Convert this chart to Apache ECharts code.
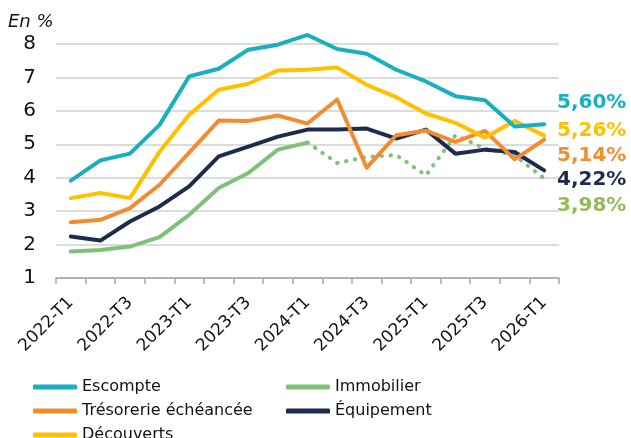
<!DOCTYPE html>
<html>
<head>
<meta charset="utf-8">
<script src="https://cdn.jsdelivr.net/npm/echarts@6/dist/echarts.min.js"></script>
<style>
html,body{margin:0;padding:0;background:#fff;}
#chart{width:631px;height:438px;}
</style>
</head>
<body>
<div id="chart"></div>
<script>
let quarters = ['2022-T1','2022-T2','2022-T3','2022-T4','2023-T1','2023-T2','2023-T3','2023-T4',
    '2024-T1','2024-T2','2024-T3','2024-T4','2025-T1','2025-T2','2025-T3','2025-T4','2026-T1'];
let escompte   = [3.91,4.52,4.72,5.58,7.03,7.26,7.83,7.98,8.27,7.85,7.71,7.23,6.88,6.44,6.32,5.53,5.60];
let tresorerie = [2.67,2.74,3.09,3.79,4.75,5.71,5.70,5.86,5.62,6.34,4.30,5.27,5.41,5.07,5.40,4.55,5.14];
let decouverts = [3.39,3.54,3.39,4.78,5.88,6.63,6.81,7.21,7.23,7.30,6.78,6.41,5.92,5.64,5.20,5.70,5.26];
let equipement = [2.24,2.12,2.69,3.14,3.74,4.64,4.93,5.23,5.44,5.44,5.47,5.17,5.44,4.72,4.84,4.77,4.22];
// immobilier : trait plein jusqu'en 2024-T1, pointillé ensuite
let immobilier = [1.79,1.84,1.94,2.22,2.89,3.69,4.14,4.84,5.05,null,null,null,null,null,null,null,null];
let immobilierPrev = [null,null,null,null,null,null,null,null,5.05,4.44,4.62,4.68,4.07,5.27,4.87,4.67,3.98];
let endLabels = ['5,60%','5,26%','5,14%','4,22%','3,98%'];

let colors = {
    escompte:'#17B0C1', tresorerie:'#F28C2E', decouverts:'#FFC000',
    equipement:'#1E2A4E', immobilier:'#7FC17B', immoLabel:'#92BB55'
};
let font = "'DejaVu Sans',sans-serif";

let myChart = echarts.init(document.getElementById('chart'));

let mkLine = function(name, data, color, dotted){
    return {
        name:name,
        type:'line',
        data:data,
        symbol:'none',
        clip:false,
        connectNulls:false,
        animation:false,
        lineStyle:{
            color:color,
            width:4,
            cap:'round',
            join:'round',
            type: dotted ? [0.5, 8.5] : 'solid'
        },
        itemStyle:{color:color}
    };
};

let labelColors = [colors.escompte, colors.decouverts, colors.tresorerie, colors.equipement, colors.immoLabel];
let labelY = [104, 132, 157, 181, 207];
let graphics = [{
    type:'text', left:8, top:13,
    style:{text:'En %', font:'italic 18px ' + font, fill:'#111'}
}];
endLabels.forEach(function(t, i){
    graphics.push({
        type:'text', left:557, top:labelY[i] - 11,
        style:{text:t, font:'bold 20px ' + font, fill:labelColors[i]}
    });
});

let legendBase = {
    orient:'vertical',
    top:379,
    height:150,
    padding:0,
    itemWidth:44,
    itemHeight:5,
    itemGap:8,
    icon:'roundRect',
    textStyle:{fontFamily:font, fontSize:16, color:'#111'}
};

let option = {
    animation:false,
    textStyle:{fontFamily:font},
    grid:{left:56, right:72, top:44, bottom:160},
    legend:[
        Object.assign({left:33, data:['Escompte','Trésorerie échéancée','Découverts']}, legendBase),
        Object.assign({left:286, data:['Immobilier','Équipement']}, legendBase)
    ],
    xAxis:{
        type:'category',
        data:quarters,
        boundaryGap:true,
        axisLine:{lineStyle:{color:'#a6a6a6', width:1.5}},
        axisTick:{show:true, interval:0, length:6, lineStyle:{color:'#a6a6a6', width:1.5}},
        axisLabel:{interval:1, rotate:45, margin:22, fontSize:17, color:'#111', fontFamily:font}
    },
    yAxis:{
        type:'value',
        min:1, max:8, interval:1,
        axisLine:{show:false},
        axisTick:{show:false},
        axisLabel:{fontSize:20, color:'#111', margin:20, fontFamily:font},
        splitLine:{lineStyle:{color:'#d0d0d0', width:1.5}}
    },
    graphic:graphics,
    series:[
        mkLine('Immobilier', immobilier, colors.immobilier),
        mkLine('Immobilier (suite)', immobilierPrev, colors.immobilier, true),
        mkLine('Équipement', equipement, colors.equipement),
        mkLine('Trésorerie échéancée', tresorerie, colors.tresorerie),
        mkLine('Découverts', decouverts, colors.decouverts),
        mkLine('Escompte', escompte, colors.escompte)
    ]
};
myChart.setOption(option);
</script>
</body>
</html>
